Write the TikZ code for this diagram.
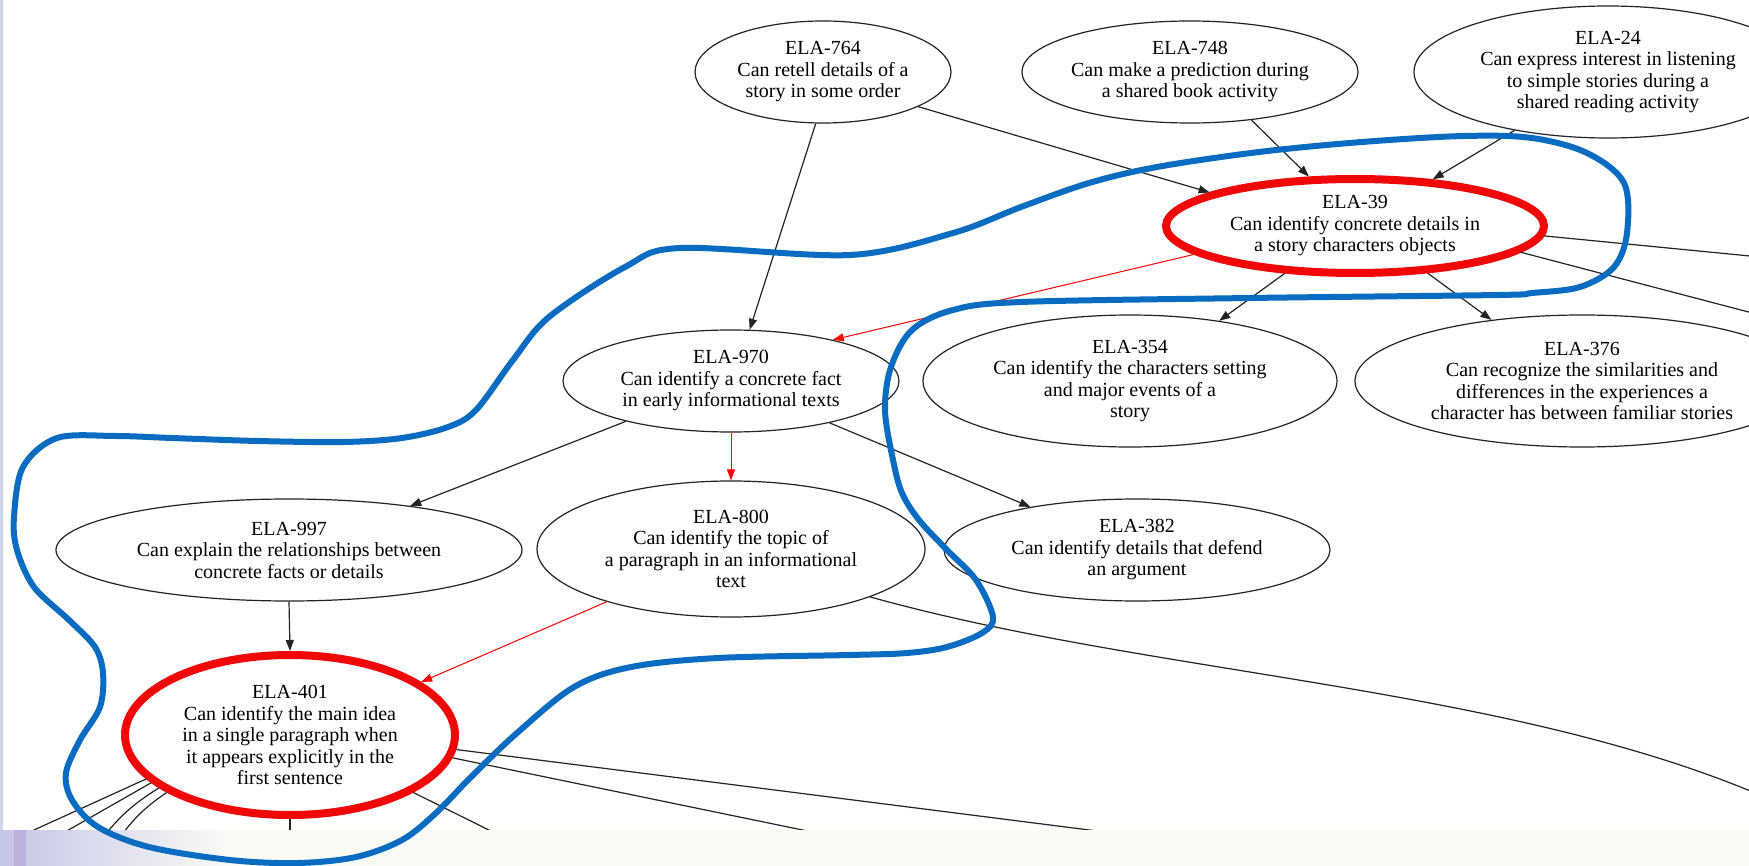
\documentclass[tikz,border=0pt]{standalone}
\usepackage{fontspec}
\setmainfont{Liberation Serif}
\usetikzlibrary{shapes.geometric,arrows.meta}
\definecolor{loopblue}{RGB}{10,108,192}
\definecolor{hlred}{RGB}{240,8,8}
\definecolor{inkgray}{RGB}{35,35,35}
\definecolor{stripbg}{RGB}{250,250,245}
\definecolor{stripleft}{RGB}{196,198,230}
\definecolor{stripbar}{RGB}{178,170,212}
\definecolor{edgeband}{RGB}{205,212,238}
\begin{document}
\begin{tikzpicture}[x=1pt,y=-1pt,
  skill/.style={ellipse, draw=inkgray, line width=1.2pt, inner sep=0pt,
    align=center, fill=white, font=\fontsize{20pt}{21.5pt}\selectfont},
  keyskill/.style={skill, draw=hlred, line width=8pt},
  dep/.style={draw=inkgray, line width=1.2pt, -{Triangle[length=11pt,width=8pt]}},
  reddep/.style={draw=red, line width=1pt, -{Triangle[length=11pt,width=8pt]}},
  outdep/.style={draw=inkgray, line width=1.2pt},
  ]
\useasboundingbox (0,0) rectangle (1749,866);
\clip (0,0) rectangle (1749,866);
\fill[white] (0,0) rectangle (1749,866);

% skill nodes
\node[skill, minimum width=256pt, minimum height=102pt] (n764) at (823,72)
  {ELA-764\\Can retell details of a\\story in some order};
\node[skill, minimum width=328pt, minimum height=102pt] (n748) at (1190,72)
  {ELA-748\\Can make a prediction during\\a shared book activity};
\node[skill, minimum width=388pt, minimum height=132pt] (n24) at (1608,72)
  {ELA-24\\Can express interest in listening\\to simple stories during a\\shared reading activity};
\node[keyskill, minimum width=378pt, minimum height=94pt] (n39) at (1355,226)
  {ELA-39\\Can identify concrete details in\\a story characters objects};
\node[skill, minimum width=336pt, minimum height=102pt] (n970) at (731,381)
  {ELA-970\\Can identify a concrete fact\\in early informational texts};
\node[skill, minimum width=414pt, minimum height=132pt] (n354) at (1130,381)
  {ELA-354\\Can identify the characters setting\\and major events of a\\story};
\node[skill, minimum width=454pt, minimum height=132pt] (n376) at (1582,381)
  {ELA-376\\Can recognize the similarities and\\differences in the experiences a\\character has between familiar stories};
\node[skill, minimum width=466pt, minimum height=102pt] (n997) at (289,550)
  {ELA-997\\Can explain the relationships between\\concrete facts or details};
\node[skill, minimum width=388pt, minimum height=136pt] (n800) at (731,549)
  {ELA-800\\Can identify the topic of\\a paragraph in an informational\\text};
\node[skill, minimum width=386pt, minimum height=102pt] (n382) at (1137,550)
  {ELA-382\\Can identify details that defend\\an argument};
\node[keyskill, minimum width=330pt, minimum height=160pt] (n401) at (290,735)
  {ELA-401\\Can identify the main idea\\in a single paragraph when\\it appears explicitly in the\\first sentence};

% loose ends of edges that leave the frame
\coordinate (offA) at (1760,257);
\coordinate (offB) at (1760,315);
\coordinate (offC) at (1760,795);
\coordinate (downA) at (1168,840);
\coordinate (downB) at (851,840);
\coordinate (downC) at (509,840);
\coordinate (downD) at (290,840);
\coordinate (downE) at (12,840);
\coordinate (downF) at (51,840);
\coordinate (downG) at (101,840);
\coordinate (downH) at (118,840);

% prerequisite edges
\draw[dep] (n764.262) -- (n970.70);
\draw[dep] (n764.-20) -- (n39.167);
\draw[dep] (n748.-38) -- (n39.133);
\draw[dep] (n24.212) -- (n39.31);
\draw[reddep] (n39.190) -- (n970.22);
\draw[dep] (n39.214) -- (n354.34);
\draw[dep] (n39.-33) -- (n376.146);
\draw[outdep] (n39.-3.6) -- (offA);
\draw[outdep] (n39.-9.7) -- (offB);
\draw[dep] (n970.201) -- (n997.20);
\draw[reddep] (n970.south) -- (n800.north);
\draw[dep] (n970.-23.5) -- (n382.158);
\draw[dep] (n997.south) -- (n401.north);
\draw[reddep] (n800.203) -- (n401.22.5);
\draw[outdep] (n800.-19) .. controls (1150,675) and (1500,685) .. (offC);
\draw[outdep] (n401.-5.6) -- (downA);
\draw[outdep] (n401.-8.7) -- (downB);
\draw[outdep] (n401.-25.8) -- (downC);
\draw[outdep] (n401.south) -- (downD);
\draw[outdep] (n401.197.4) -- (downE);
\draw[outdep] (n401.199.2) -- (downF);
\draw[outdep] (n401.202) to[bend right=10] (downG);
\draw[outdep] (n401.205.8) to[bend right=10] (downH);

% slide background below the graph
\fill[stripbg] (0,830) rectangle (1749,866);
\shade[left color=stripleft, right color=stripbg] (0,830) rectangle (230,866);
\fill[stripbar, opacity=0.7] (14,830) rectangle (26,866);
\fill[edgeband] (0,0) rectangle (3,830);

% hand-drawn outline around the selected skills
\draw[loopblue, line width=6pt, line join=round]
  plot[smooth cycle, tension=0.55] coordinates {
  (680,248) (850,255) (953,233) (1021,207) (1089,183) (1157,167) (1259,152)
  (1362,142) (1464,136) (1532,138) (1587,153) (1624,183) (1627,233) (1614,267)
  (1580,287) (1532,293) (1498,295) (1250,298) (1021,302) (953,310) (912,330)
  (891,367) (885,410) (893,460) (902,493) (919,520) (947,550) (976,580)
  (993,617) (982,633) (947,647) (907,653) (850,655) (718,658) (631,667)
  (574,687) (517,733) (471,777) (436,813) (402,840) (356,857) (298,863)
  (230,860) (149,847) (98,827) (72,800) (66,773) (80,740) (100,707) (103,673)
  (95,647) (69,620) (34,587) (17,550) (14,517) (23,467) (57,438) (115,436)
  (172,438) (258,441) (344,442) (402,438) (448,427) (476,410) (513,360)
  (549,317) (625,267)};
\end{tikzpicture}
\end{document}
